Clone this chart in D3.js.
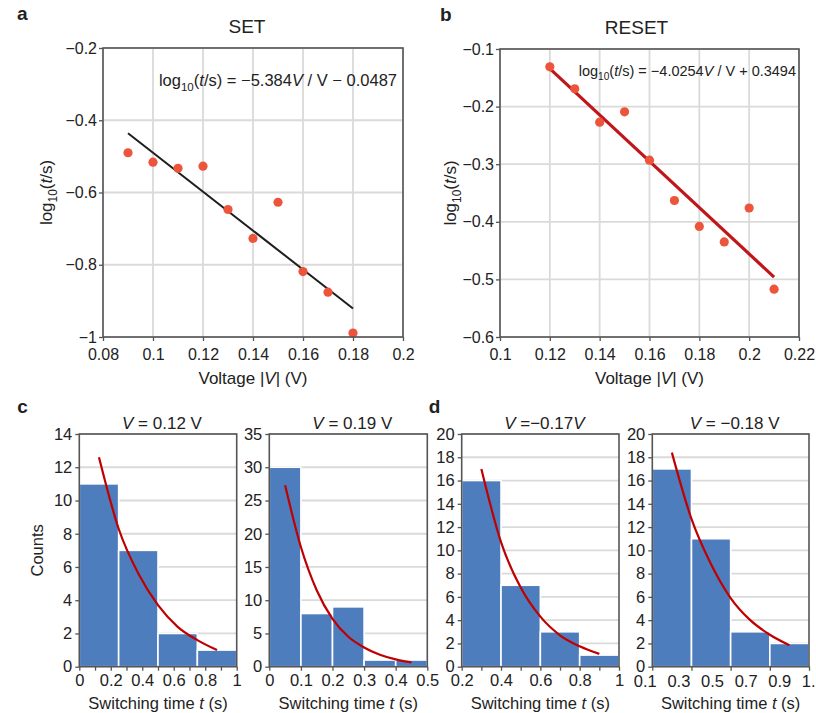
<!DOCTYPE html>
<html>
<head>
<meta charset="utf-8">
<script src="https://cdn.jsdelivr.net/npm/d3@7"></script>
<style>
  body { margin: 0; background: #fff; }
  text { font-family: "Liberation Sans", Arial, sans-serif; fill: #222; }
</style>
</head>
<body>
<div id="chart"></div>
<script>
// ---- data ----

// a: SET
const setVoltage = [0.09, 0.10, 0.11, 0.12, 0.13, 0.14, 0.15, 0.16, 0.17, 0.18];
const setLogT = [-0.490, -0.516, -0.533, -0.527, -0.647, -0.727, -0.627, -0.819, -0.876, -0.989];
const setFit = [[0.09, -0.436], [0.18, -0.921]];
const setXTicks = [0.08, 0.1, 0.12, 0.14, 0.16, 0.18, 0.2];
const setYTicks = [-1, -0.8, -0.6, -0.4, -0.2];

// b: RESET
const resetVoltage = [0.12, 0.13, 0.14, 0.15, 0.16, 0.17, 0.18, 0.19, 0.20, 0.21];
const resetLogT = [-0.131, -0.169, -0.227, -0.209, -0.293, -0.363, -0.408, -0.435, -0.376, -0.517];
const resetFit = [[0.12, -0.134], [0.21, -0.496]];
const resetXTicks = [0.1, 0.12, 0.14, 0.16, 0.18, 0.2, 0.22];
const resetYTicks = [-0.6, -0.5, -0.4, -0.3, -0.2, -0.1];

// c: V = 0.12 V
const c1Edges = [0, 0.25, 0.5, 0.75, 1];
const c1Counts = [11, 7, 2, 1];
const c1FitT = [0.125, 0.25, 0.375, 0.5, 0.625, 0.75, 0.875];
const c1FitN = [12.6, 8.3, 5.6, 3.7, 2.4, 1.6, 1.0];
const c1XTicks = [0, 0.1, 0.2, 0.3, 0.4, 0.5, 0.6, 0.7, 0.8, 0.9, 1];
const c1XLabels = ["0", "", "0.2", "", "0.4", "", "0.6", "", "0.8", "", "1"];
const c1YTicks = [0, 2, 4, 6, 8, 10, 12, 14];

// c: V = 0.19 V
const c2Edges = [0, 0.1, 0.2, 0.3, 0.4, 0.5];
const c2Counts = [30, 8, 9, 1, 1];
const c2FitT = [0.05, 0.1, 0.15, 0.2, 0.25, 0.3, 0.35, 0.4, 0.45];
const c2FitN = [27.3, 18, 11.5, 7.2, 4.5, 2.9, 1.8, 1.1, 0.65];
const c2XTicks = [0, 0.1, 0.2, 0.3, 0.4, 0.5];
const c2XLabels = ["0", "0.1", "0.2", "0.3", "0.4", "0.5"];
const c2YTicks = [0, 5, 10, 15, 20, 25, 30, 35];

// d: V = -0.17 V
const d1Edges = [0.2, 0.4, 0.6, 0.8, 1.0];
const d1Counts = [16, 7, 3, 1];
const d1FitT = [0.3, 0.4, 0.5, 0.6, 0.7, 0.8, 0.9];
const d1FitN = [17, 10.7, 6.8, 4.3, 2.7, 1.75, 1.1];
const d1XTicks = [0.2, 0.3, 0.4, 0.5, 0.6, 0.7, 0.8, 0.9, 1.0];
const d1XLabels = ["0.2", "", "0.4", "", "0.6", "", "0.8", "", "1"];
const d1YTicks = [0, 2, 4, 6, 8, 10, 12, 14, 16, 18, 20];

// d: V = -0.18 V
const d2Edges = [0.1, 0.3, 0.5, 0.7, 0.9];
const d2Counts = [17, 11, 3, 2];
const d2FitT = [0.2, 0.3, 0.4, 0.5, 0.6, 0.7, 0.8];
const d2FitN = [18.4, 12.7, 8.8, 5.9, 4.0, 2.75, 1.85];
const d2XTicks = [0.1, 0.3, 0.5, 0.7, 0.9];
const d2XLabels = ["", "", "", "", ""];
const d2ShiftedLabels = ["0.1", "0.3", "0.5", "0.7", "0.9", "1.1"]; // printed on their own spacing, not on the ticks
const d2YTicks = [0, 2, 4, 6, 8, 10, 12, 14, 16, 18, 20];

// ---- drawing ----
const W = 816, H = 713;
const frameColor = "#555";
const gridColor = "#dadada";
const dotColor = "#ec553c";
const barColor = "#4e7dbd";
const curveColor = "#c00000";

const svg = d3.select("#chart").append("svg")
  .attr("width", W).attr("height", H)
  .style("background", "#fff");

const minus = s => s.replace("-", "\u2212");

// text with italics / subscripts
function richText(sel, parts, fs) {
  parts.forEach(p => {
    const t = sel.append("tspan").text(p.t);
    if (p.i) t.attr("font-style", "italic");
    if (p.sub) t.attr("font-size", fs * 0.7).attr("dy", fs * 0.28);
    if (p.up) t.attr("dy", -fs * 0.28);
  });
  return sel;
}

function styleAxis(g, fs) {
  g.select(".domain").remove();
  g.selectAll(".tick line").attr("stroke", frameColor).attr("stroke-width", 1.3);
  g.selectAll(".tick text").attr("font-size", fs).attr("fill", "#222")
    .attr("font-family", '"Liberation Sans", Arial, sans-serif');
}

function frame(g, w, h) {
  g.append("rect").attr("width", w).attr("height", h)
    .attr("fill", "none").attr("stroke", frameColor).attr("stroke-width", 1.6);
}

function scatterPanel(o) {
  const w = o.right - o.left, h = o.bottom - o.top;
  const g = svg.append("g").attr("transform", `translate(${o.left},${o.top})`);
  const x = d3.scaleLinear().domain(o.xDomain).range([0, w]);
  const y = d3.scaleLinear().domain(o.yDomain).range([h, 0]);

  // grid
  g.append("g").selectAll("line").data(o.xTicks).join("line")
    .attr("x1", d => x(d)).attr("x2", d => x(d)).attr("y1", 0).attr("y2", h)
    .attr("stroke", gridColor).attr("stroke-width", 1.8);
  g.append("g").selectAll("line").data(o.yTicks).join("line")
    .attr("y1", d => y(d)).attr("y2", d => y(d)).attr("x1", 0).attr("x2", w)
    .attr("stroke", gridColor).attr("stroke-width", 1.8);

  // axes
  g.append("g").attr("transform", `translate(0,${h})`)
    .call(d3.axisBottom(x).tickValues(o.xTicks).tickSize(4).tickPadding(8)
      .tickFormat(d => String(+d.toFixed(2))))
    .call(a => styleAxis(a, 16));
  g.append("g")
    .call(d3.axisLeft(y).tickValues(o.yTicks).tickSize(4).tickPadding(2)
      .tickFormat(d => minus(String(+d.toFixed(2)))))
    .call(a => styleAxis(a, 16));

  // fit line
  g.append("path").datum(o.fit)
    .attr("d", d3.line().x(d => x(d[0])).y(d => y(d[1])))
    .attr("fill", "none").attr("stroke", o.fitColor).attr("stroke-width", o.fitWidth);

  // points
  g.append("g").selectAll("circle").data(o.vx).join("circle")
    .attr("cx", d => x(d)).attr("cy", (d, i) => y(o.vy[i])).attr("r", 4.6)
    .attr("fill", dotColor);

  frame(g, w, h);

  // texts
  g.append("text").attr("x", w / 2 + o.titleDx).attr("y", -15).attr("text-anchor", "middle")
    .attr("font-size", 19).text(o.title);
  richText(g.append("text").attr("x", o.eqX).attr("y", o.eqY).attr("font-size", o.eqFs)
    .attr("text-anchor", "end"), o.eq, o.eqFs);
  richText(g.append("text").attr("x", w / 2).attr("y", h + 47).attr("text-anchor", "middle")
    .attr("font-size", 17),
    [{ t: "Voltage |" }, { t: "V", i: true }, { t: "| (V)" }], 17);
  richText(g.append("text").attr("transform", `translate(${o.yLabX},${h / 2}) rotate(-90)`)
    .attr("text-anchor", "middle").attr("font-size", 17),
    [{ t: "log" }, { t: "10", sub: true }, { t: "(", up: true }, { t: "t", i: true }, { t: "/s)" }], 17);
  g.append("text").attr("x", o.letterX).attr("y", -28).attr("font-size", 19)
    .attr("font-weight", "bold").text(o.letter);
}

scatterPanel({
  left: 103, right: 403, top: 48, bottom: 337,
  xDomain: [0.08, 0.2], yDomain: [-1, -0.2],
  xTicks: setXTicks, yTicks: setYTicks,
  vx: setVoltage, vy: setLogT, fit: setFit,
  fitColor: "#1e1e1e", fitWidth: 2,
  title: "SET", titleDx: -6,
  eq: [{ t: "log" }, { t: "10", sub: true }, { t: "(", up: true }, { t: "t", i: true },
       { t: "/s) = \u22125.384" }, { t: "V", i: true }, { t: " / V \u2212 0.0487" }],
  eqX: 294, eqY: 38, eqFs: 16.5,
  yLabX: -51, letter: "a", letterX: -86
});

scatterPanel({
  left: 500, right: 799, top: 49, bottom: 337,
  xDomain: [0.1, 0.22], yDomain: [-0.6, -0.1],
  xTicks: resetXTicks, yTicks: resetYTicks,
  vx: resetVoltage, vy: resetLogT, fit: resetFit,
  fitColor: "#c0161b", fitWidth: 3.2,
  title: "RESET", titleDx: -13,
  eq: [{ t: "log" }, { t: "10", sub: true }, { t: "(", up: true }, { t: "t", i: true },
       { t: "/s) = \u22124.0254" }, { t: "V", i: true }, { t: " / V + 0.3494" }],
  eqX: 296, eqY: 27, eqFs: 14.5,
  yLabX: -44, letter: "b", letterX: -60
});

function histPanel(o) {
  const w = o.right - o.left, h = o.bottom - o.top;
  const g = svg.append("g").attr("transform", `translate(${o.left},${o.top})`);
  const x = d3.scaleLinear().domain([o.edges[0], o.edges[o.edges.length - 1]]).range([0, w]);
  const y = d3.scaleLinear().domain([0, o.yTicks[o.yTicks.length - 1]]).range([h, 0]);

  g.append("g").selectAll("line").data(o.yTicks).join("line")
    .attr("y1", d => y(d)).attr("y2", d => y(d)).attr("x1", 0).attr("x2", w)
    .attr("stroke", gridColor).attr("stroke-width", 1.8);

  g.append("g").selectAll("rect").data(o.counts).join("rect")
    .attr("x", (d, i) => x(o.edges[i]))
    .attr("width", (d, i) => x(o.edges[i + 1]) - x(o.edges[i]))
    .attr("y", d => y(d)).attr("height", d => h - y(d))
    .attr("fill", barColor).attr("stroke", "#fff").attr("stroke-width", 1.6);

  g.append("path").datum(o.fitT)
    .attr("d", d3.line().curve(d3.curveMonotoneX).x(d => x(d)).y((d, i) => y(o.fitN[i])))
    .attr("fill", "none").attr("stroke", curveColor).attr("stroke-width", 2.2);

  g.append("g").attr("transform", `translate(0,${h})`)
    .call(d3.axisBottom(x).tickValues(o.xTicks).tickSize(4).tickPadding(4)
      .tickFormat((d, i) => o.xLabels[i]))
    .call(a => styleAxis(a, 16.5));
  g.append("g")
    .call(d3.axisLeft(y).tickValues(o.yTicks).tickSize(4).tickPadding(3))
    .call(a => styleAxis(a, 16.5));

  if (o.shifted) {
    const lx = d3.scalePoint().domain(o.shifted)
      .range([x(o.edges[0]) - 7, x(o.edges[0]) - 7 + (o.shifted.length - 1) * 33.6]);
    g.append("g").selectAll("text").data(o.shifted).join("text")
      .attr("x", d => lx(d)).attr("y", h + 20).attr("text-anchor", "middle")
      .attr("font-size", 16.5).text(d => d);
  }

  frame(g, w, h);

  richText(g.append("text").attr("x", w / 2 + 4).attr("y", -5).attr("text-anchor", "middle")
    .attr("font-size", 17), o.title, 17);
  richText(g.append("text").attr("x", w / 2).attr("y", h + 42).attr("text-anchor", "middle")
    .attr("font-size", 16.5),
    [{ t: "Switching time " }, { t: "t", i: true }, { t: " (s)" }], 16.5);
  if (o.counts_label) {
    g.append("text").attr("transform", `translate(-36,${h / 2}) rotate(-90)`)
      .attr("text-anchor", "middle").attr("font-size", 16.5).text("Counts");
  }
  if (o.letter) {
    g.append("text").attr("x", o.letterX).attr("y", -21).attr("font-size", 19)
      .attr("font-weight", "bold").text(o.letter);
  }
}

histPanel({
  left: 79.3, right: 236.7, top: 434, bottom: 666.7,
  edges: c1Edges, counts: c1Counts, fitT: c1FitT, fitN: c1FitN,
  xTicks: c1XTicks, xLabels: c1XLabels, yTicks: c1YTicks,
  title: [{ t: "V", i: true }, { t: " = 0.12 V" }],
  counts_label: true, letter: "c", letterX: -62
});
histPanel({
  left: 269.3, right: 427.3, top: 434, bottom: 666.7,
  edges: c2Edges, counts: c2Counts, fitT: c2FitT, fitN: c2FitN,
  xTicks: c2XTicks, xLabels: c2XLabels, yTicks: c2YTicks,
  title: [{ t: "V", i: true }, { t: " = 0.19 V" }]
});
histPanel({
  left: 461.7, right: 619, top: 434, bottom: 666.7,
  edges: d1Edges, counts: d1Counts, fitT: d1FitT, fitN: d1FitN,
  xTicks: d1XTicks, xLabels: d1XLabels, yTicks: d1YTicks,
  title: [{ t: "V", i: true }, { t: " =\u22120.17" }, { t: "V", i: true }],
  letter: "d", letterX: -33
});
histPanel({
  left: 652.3, right: 809, top: 434, bottom: 666.7,
  edges: d2Edges, counts: d2Counts, fitT: d2FitT, fitN: d2FitN,
  xTicks: d2XTicks, xLabels: d2XLabels, yTicks: d2YTicks, shifted: d2ShiftedLabels,
  title: [{ t: "V", i: true }, { t: " = \u22120.18 V" }]
});
</script>
</body>
</html>
